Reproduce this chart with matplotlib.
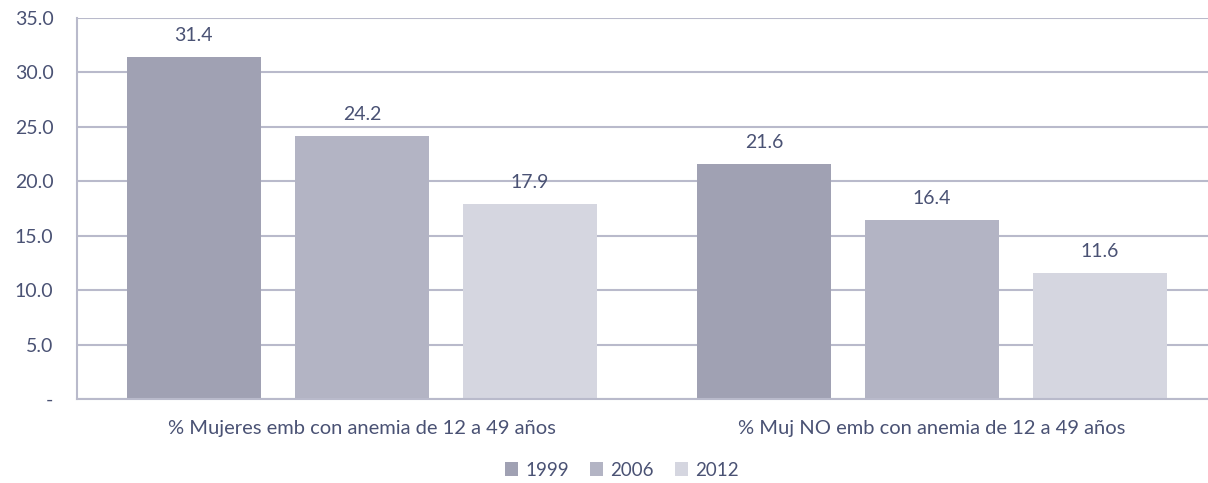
import matplotlib
matplotlib.use("Agg")
import matplotlib.pyplot as plt
import numpy as np

# datos
categorias = ["% Mujeres emb con anemia de 12 a 49 años",
              "% Muj NO emb con anemia de 12 a 49 años"]
años = ["1999", "2006", "2012"]
valores = {
    "1999": [31.4, 21.6],
    "2006": [24.2, 16.4],
    "2012": [17.9, 11.6],
}
yticks = [0, 5, 10, 15, 20, 25, 30, 35]
colores = ["#a0a1b3", "#b3b4c4", "#d5d6e0"]
texto = "#4a5274"
rejilla = "#b9bacb"

plt.rcParams['font.family'] = ['Lato', 'DejaVu Sans']

fig = plt.figure(figsize=(12.08, 4.83), dpi=100)
ax = fig.add_axes([77/1208, 1 - 399/483, 1140/1208, (399 - 18)/483])

x = np.arange(len(categorias))
paso = 0.295
ancho = 0.235
for i, a in enumerate(años):
    pos = x + (i - 1) * paso
    ax.bar(pos, valores[a], ancho, color=colores[i], label=a, zorder=2)
    for p, v in zip(pos, valores[a]):
        ax.text(p, v + 1.2, f"{v:.1f}", ha="center", va="bottom",
                fontsize=14, color=texto)

ax.set_xlim(-0.5, 1.5)
ax.set_ylim(0, 35)
ax.set_yticks(yticks)
ax.set_yticklabels(["-"] + [f"{t:.1f}" for t in yticks[1:]])
ax.set_xticks(x)
ax.set_xticklabels(categorias, fontsize=14.5)
ax.tick_params(axis="both", length=0, labelcolor=texto)
ax.tick_params(axis="y", pad=17, labelsize=14)
ax.tick_params(axis="x", pad=15)
ax.grid(axis="y", color=rejilla, linewidth=1.5, zorder=0)
for lado in ["top", "right"]:
    ax.spines[lado].set_visible(False)
for lado in ["left", "bottom"]:
    ax.spines[lado].set_color(rejilla)
    ax.spines[lado].set_linewidth(1.5)

fig.legend(loc="center", bbox_to_anchor=(622/1208, 1 - 470/483), ncol=3,
           frameon=False, fontsize=13.5, labelcolor=texto,
           handlelength=0.7, handleheight=0.7, handletextpad=0.4,
           columnspacing=1.1)

fig.savefig("out.png", dpi=100)
